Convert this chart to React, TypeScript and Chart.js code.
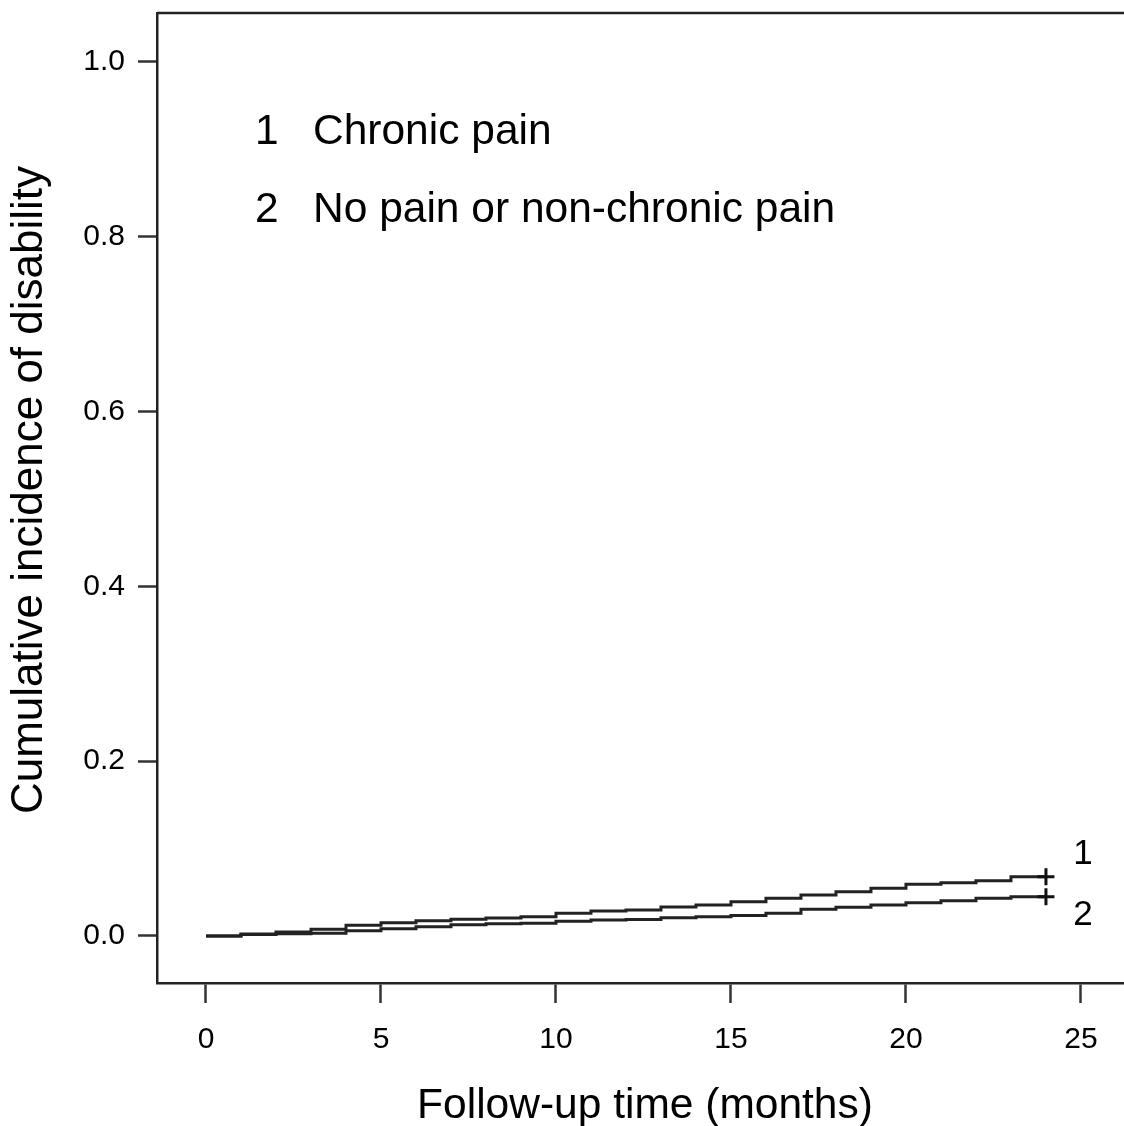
import React, { useEffect, useRef } from "react";
import { Chart, registerables } from "chart.js";

Chart.register(...registerables);

const months = [0, 1, 2, 3, 4, 5, 6, 7, 8, 9, 10, 11, 12, 13, 14, 15, 16, 17, 18, 19, 20, 21, 22, 23, 24];
const chronicPain = [0, 0.0023, 0.0046, 0.0077, 0.0122, 0.0152, 0.0175, 0.019, 0.0205, 0.0221, 0.026, 0.0286, 0.0297, 0.0332, 0.0355, 0.0392, 0.0431, 0.0469, 0.0507, 0.0546, 0.0592, 0.061, 0.0633, 0.0678, 0.0678];
const noPain = [0, 0.0018, 0.0025, 0.003, 0.0061, 0.0084, 0.0106, 0.0129, 0.014, 0.0145, 0.0168, 0.0183, 0.0189, 0.0209, 0.0221, 0.0235, 0.026, 0.0305, 0.0328, 0.0355, 0.0381, 0.0404, 0.0431, 0.045, 0.045];
const seriesNames = ["Chronic pain", "No pain or non-chronic pain"];
const seriesNumbers = ["1", "2"];
const xTicks = [0, 5, 10, 15, 20, 25];
const yTicks = [0, 0.2, 0.4, 0.6, 0.8, 1.0];
const xTitle = "Follow-up time (months)";
const yTitle = "Cumulative incidence of disability";

const FONT = "'Liberation Sans', Arial, Helvetica, sans-serif";

export default function App() {
  const ref = useRef<HTMLCanvasElement | null>(null);

  useEffect(() => {
    if (!ref.current) return;
    const lastIdx = months.length - 1;
    const mkData = (vals: number[]) => months.map((m, i) => ({ x: m, y: vals[i] }));
    const radii = months.map((_, i) => (i === lastIdx ? 8.5 : 0));

    const overlay = {
      id: "overlay",
      afterDraw(chart: any) {
        const { ctx, chartArea, scales } = chart;
        ctx.save();
        // top frame line
        ctx.strokeStyle = "#222";
        ctx.lineWidth = 2.5;
        ctx.beginPath();
        ctx.moveTo(chartArea.left, chartArea.top);
        ctx.lineTo(chartArea.right, chartArea.top);
        ctx.stroke();

        ctx.fillStyle = "#000";
        // legend
        ctx.font = `42.5px ${FONT}`;
        ctx.textBaseline = "middle";
        ctx.textAlign = "left";
        const legendY = [132, 210];
        seriesNames.forEach((name, i) => {
          ctx.fillText(seriesNumbers[i], 255, legendY[i]);
          ctx.fillText(name, 313, legendY[i]);
        });

        // curve end labels
        ctx.font = `35px ${FONT}`;
        ctx.textAlign = "center";
        const xEnd = scales.x.getPixelForValue(months[lastIdx]);
        const y1 = scales.y.getPixelForValue(chronicPain[lastIdx]);
        const y2 = scales.y.getPixelForValue(noPain[lastIdx]);
        ctx.fillText(seriesNumbers[0], xEnd + 37, y1 - 22);
        ctx.fillText(seriesNumbers[1], xEnd + 37, y2 + 19);

        // axis titles
        ctx.font = `42.5px ${FONT}`;
        ctx.textAlign = "center";
        ctx.fillText(xTitle, 645, 1106);
        ctx.save();
        ctx.translate(30, 490);
        ctx.rotate(-Math.PI / 2);
        ctx.font = `44px ${FONT}`;
        ctx.fillText(yTitle, 0, 0);
        ctx.restore();
        ctx.restore();
      },
    };

    const chart = new Chart(ref.current, {
      type: "line",
      data: {
        datasets: [
          {
            label: seriesNames[0],
            data: mkData(chronicPain),
            stepped: "before",
            borderColor: "#222",
            borderWidth: 3,
            pointRadius: radii,
            pointStyle: "cross",
            pointBorderColor: "#111",
            pointBorderWidth: 3,
            fill: false,
          },
          {
            label: seriesNames[1],
            data: mkData(noPain),
            stepped: "before",
            borderColor: "#222",
            borderWidth: 3,
            pointRadius: radii,
            pointStyle: "cross",
            pointBorderColor: "#111",
            pointBorderWidth: 3,
            fill: false,
          },
        ],
      },
      options: {
        animation: false,
        responsive: false,
        devicePixelRatio: 1,
        layout: { autoPadding: false, padding: { top: 13, right: 0, bottom: 0, left: 0 } },
        plugins: {
          legend: { display: false },
          tooltip: { enabled: false },
          title: { display: false },
        },
        scales: {
          x: {
            type: "linear",
            min: -1.4,
            max: 26.23,
            afterBuildTicks: (scale: any) => {
              scale.ticks = xTicks.map((v) => ({ value: v }));
            },
            afterFit: (scale: any) => {
              scale.height = 143;
              scale.paddingLeft = 0;
              scale.paddingRight = 0;
              scale.paddingTop = 0;
              scale.paddingBottom = 0;
            },
            ticks: {
              autoSkip: false,
              maxRotation: 0,
              padding: 19,
              color: "#000",
              font: { family: FONT, size: 30 },
              callback: (v: any) => String(v),
            },
            grid: {
              drawOnChartArea: false,
              drawTicks: true,
              tickLength: 20,
              tickWidth: 2.5,
              tickColor: "#333",
            },
            border: { display: true, color: "#222", width: 2.5 },
          },
          y: {
            type: "linear",
            min: -0.0538,
            max: 1.056,
            afterBuildTicks: (scale: any) => {
              scale.ticks = yTicks.map((v) => ({ value: v }));
            },
            afterFit: (scale: any) => {
              scale.width = 157;
              scale.paddingLeft = 0;
              scale.paddingRight = 0;
              scale.paddingTop = 0;
              scale.paddingBottom = 0;
            },
            ticks: {
              autoSkip: false,
              padding: 13,
              color: "#000",
              font: { family: FONT, size: 30 },
              callback: (v: any) => Number(v).toFixed(1),
            },
            grid: {
              drawOnChartArea: false,
              drawTicks: true,
              tickLength: 19,
              tickWidth: 2.5,
              tickColor: "#333",
            },
            border: { display: true, color: "#222", width: 2.5 },
          },
        },
      },
      plugins: [overlay],
    });
    return () => chart.destroy();
  }, []);

  return (
    <div style={{ position: "fixed", left: 0, top: 0, width: 1124, height: 1126, background: "#fff" }}>
      <canvas ref={ref} width={1124} height={1126} style={{ display: "block" }} />
    </div>
  );
}
